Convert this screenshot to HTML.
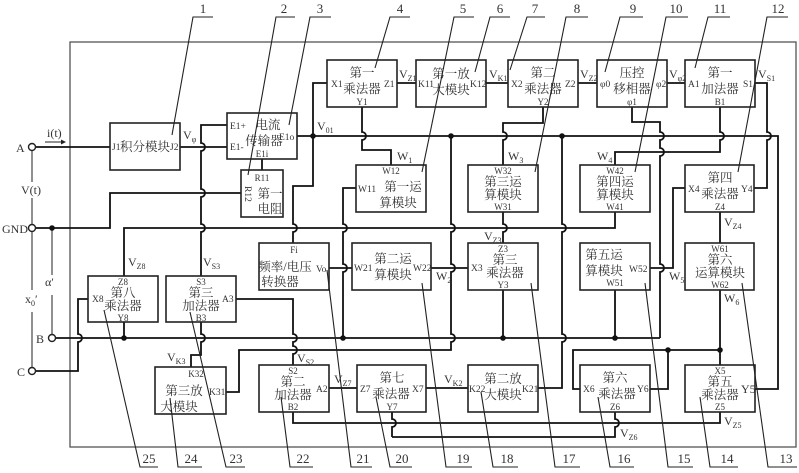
<!DOCTYPE html>
<html><head><meta charset="utf-8"><style>
html,body{margin:0;padding:0;background:#fff}
svg{display:block}
.w{fill:none;stroke:#111;stroke-width:1.8}
.g{fill:none;stroke:#555;stroke-width:1.3}
.b{fill:#fff;stroke:#222;stroke-width:1.6}
.l{fill:none;stroke:#222;stroke-width:1.1}
text{font-family:"Liberation Serif","Noto Serif CJK SC",serif;fill:#333}
.c{font-size:12.5px;text-anchor:middle}
.p{font-size:9.5px}
.pm{font-size:9px;text-anchor:middle}
.s{font-size:12px}
.n{font-size:13px;text-anchor:middle}
</style></head><body>
<svg width="799" height="473" viewBox="0 0 799 473" xmlns="http://www.w3.org/2000/svg">
<rect x="70" y="42" width="726" height="405" class="g"/>
<path class="g" d="M32,151V224M32,232V367M52,228V334"/>
<rect x="18" y="182" width="28" height="16" fill="#fff"/>
<rect x="40" y="275" width="20" height="20" fill="#fff"/>
<rect x="20" y="290" width="22" height="22" fill="#fff"/>
<path class="w" d="M35.5,147H110"/>
<path class="w" d="M35.5,228H110V193H241"/>
<path class="w" d="M180,147H227"/>
<path class="w" d="M227,125H201V143a4,4 0 0 1 0,8V189a4,4 0 0 1 0,8V224a4,4 0 0 1 0,8V276"/>
<path class="w" d="M262,159V170"/>
<path class="w" d="M297,136H778V389H755"/>
<path class="w" d="M313,136V83H327M313,136V186H293V224a4,4 0 0 1 0,8V243"/>
<path class="w" d="M362,107V132a4,4 0 0 1 0,8V150H391V165"/>
<path class="w" d="M356,188H343V224a4,4 0 0 1 0,8V264a4,4 0 0 1 0,8V338"/>
<path class="w" d="M329,268H352M431,268H468"/>
<path class="w" d="M451,136V224a4,4 0 0 1 0,8V264a4,4 0 0 1 0,8V334a4,4 0 0 1 0,8V350H239V392H226"/>
<path class="w" d="M562,136V224a4,4 0 0 1 0,8V334a4,4 0 0 1 0,8V388H538"/>
<path class="w" d="M55.5,338H660"/>
<path class="w" d="M632,107V122H660V132a4,4 0 0 1 0,8V148a4,4 0 0 1 0,8V264a4,4 0 0 1 0,8V338"/>
<path class="w" d="M88,299H78V334a4,4 0 0 1 0,8V371H35.5"/>
<path class="w" d="M124,322V338M124,276V228H615V212"/>
<path class="w" d="M236,299H293V334a4,4 0 0 1 0,8V346a4,4 0 0 1 0,8V365"/>
<path class="w" d="M201,322V334a4,4 0 0 1 0,8V355H191V367"/>
<path class="w" d="M503,290V338M615,290V338"/>
<path class="w" d="M543,107V123H503V132a4,4 0 0 1 0,8V165"/>
<path class="w" d="M503,212V224a4,4 0 0 1 0,8V243"/>
<path class="w" d="M720,107V132a4,4 0 0 1 0,8V152H615V165"/>
<path class="w" d="M755,83H767V132a4,4 0 0 1 0,8V188H754"/>
<path class="w" d="M685,188H673V268H650"/>
<path class="w" d="M720,212V243M720,290V365"/>
<path class="w" d="M580,389H573V350H720M650,389H668V350"/>
<path class="w" d="M720,412V423H293V412"/>
<path class="w" d="M392,412V419a4,4 0 0 1 0,8V437"/>
<path class="w" d="M615,412V419a4,4 0 0 1 0,8V437H392"/>
<path class="w" d="M329,388H357M426,388H468"/>
<path class="w" d="M397,83H416M486,83H508M578,83H597M667,83H685"/>
<g fill="#111">
<circle cx="52" cy="228" r="2.8"/><circle cx="313" cy="136" r="2.8"/><circle cx="451" cy="136" r="2.8"/><circle cx="562" cy="136" r="2.8"/>
<circle cx="124" cy="338" r="2.8"/><circle cx="343" cy="338" r="2.8"/><circle cx="503" cy="338" r="2.8"/><circle cx="615" cy="338" r="2.8"/>
<circle cx="668" cy="350" r="2.8"/><circle cx="720" cy="350" r="2.8"/>
</g>
<g fill="#fff" stroke="#222" stroke-width="1.4">
<circle cx="32" cy="147" r="3.5"/><circle cx="32" cy="228" r="3.5"/><circle cx="52" cy="338" r="3.5"/><circle cx="32" cy="371" r="3.5"/>
</g>
<text x="16" y="152" class="s">A</text>
<text x="2" y="233" class="s">GND</text>
<text x="36" y="343" class="s">B</text>
<text x="17" y="376" class="s">C</text>
<text x="21" y="194" class="s">V(t)</text>
<text x="45" y="286" class="s">α′</text>
<text x="25" y="303" class="s">x<tspan font-size="8" dy="3">0</tspan><tspan dy="-3">′</tspan></text>
<text x="47" y="137" class="s">i(t)</text>
<path d="M45,142H62" class="l"/><path d="M66,142l-5,-2.5v5z" fill="#222"/>

<rect x="110" y="123" width="70" height="47" class="b"/>
<text x="112" y="150" class="p" font-size="8">J1</text><text x="145" y="151" class="c" font-size="12">积分模块</text><text x="170" y="150" class="p" font-size="8">J2</text>

<rect x="227" y="113" width="70" height="46" class="b"/>
<text x="230" y="129" class="p">E1+</text><text x="230" y="150" class="p">E1-</text>
<text x="268" y="129" class="c">电流</text><text x="264" y="145" class="c">传输器</text>
<text x="262" y="157" class="pm">E1i</text><text x="279" y="140" class="p">E1o</text>

<rect x="241" y="170" width="42" height="47" class="b"/>
<text x="262" y="181" class="pm">R11</text>
<text transform="translate(245,186) rotate(90)" class="p">R12</text>
<text x="270" y="198" class="c">第一</text><text x="270" y="213" class="c">电阻</text>

<rect x="327" y="60" width="70" height="47" class="b"/>
<text x="362" y="77" class="c">第一</text><text x="362" y="93" class="c">乘法器</text>
<text x="331" y="87" class="p">X1</text><text x="384" y="87" class="p">Z1</text><text x="362" y="105" class="pm">Y1</text>

<rect x="416" y="60" width="70" height="47" class="b"/>
<text x="451" y="78" class="c">第一放</text><text x="451" y="94" class="c">大模块</text>
<text x="418" y="87" class="p">K11</text><text x="470" y="87" class="p">K12</text>

<rect x="508" y="60" width="70" height="47" class="b"/>
<text x="543" y="77" class="c">第二</text><text x="543" y="93" class="c">乘法器</text>
<text x="511" y="87" class="p">X2</text><text x="565" y="87" class="p">Z2</text><text x="543" y="105" class="pm">Y2</text>

<rect x="597" y="60" width="70" height="47" class="b"/>
<text x="632" y="77" class="c">压控</text><text x="632" y="93" class="c">移相器</text>
<text x="600" y="87" class="p">φ0</text><text x="656" y="87" class="p">φ2</text><text x="632" y="105" class="pm">φ1</text>

<rect x="685" y="60" width="70" height="47" class="b"/>
<text x="720" y="77" class="c">第一</text><text x="720" y="93" class="c">加法器</text>
<text x="688" y="87" class="p">A1</text><text x="743" y="87" class="p">S1</text><text x="720" y="105" class="pm">B1</text>

<rect x="356" y="165" width="70" height="47" class="b"/>
<text x="391" y="174" class="pm">W12</text>
<text x="358" y="192" class="p">W11</text><text x="403" y="191" class="c">第一运</text><text x="398" y="207" class="c">算模块</text>

<rect x="468" y="165" width="70" height="47" class="b"/>
<text x="503" y="174" class="pm">W32</text><text x="503" y="186" class="c">第三运</text><text x="503" y="199" class="c">算模块</text><text x="503" y="210" class="pm">W31</text>

<rect x="580" y="165" width="70" height="47" class="b"/>
<text x="615" y="174" class="pm">W42</text><text x="615" y="186" class="c">第四运</text><text x="615" y="199" class="c">算模块</text><text x="615" y="210" class="pm">W41</text>

<rect x="685" y="165" width="69" height="47" class="b"/>
<text x="720" y="182" class="c">第四</text><text x="720" y="198" class="c">乘法器</text>
<text x="688" y="192" class="p">X4</text><text x="741" y="192" class="p">Y4</text><text x="720" y="210" class="pm">Z4</text>

<rect x="259" y="243" width="70" height="47" class="b"/>
<text x="294" y="253" class="pm">Fi</text><text x="285" y="271" class="c">频率/电压</text><text x="280" y="286" class="c">转换器</text>
<text x="316" y="272" class="p">Vo</text>

<rect x="352" y="243" width="79" height="47" class="b"/>
<text x="354" y="271" class="p">W21</text><text x="393" y="263" class="c">第二运</text><text x="393" y="279" class="c">算模块</text><text x="413" y="271" class="p">W22</text>

<rect x="468" y="243" width="70" height="47" class="b"/>
<text x="503" y="252" class="pm">Z3</text><text x="505" y="264" class="c">第三</text><text x="505" y="277" class="c">乘法器</text>
<text x="471" y="271" class="p">X3</text><text x="503" y="288" class="pm">Y3</text>

<rect x="580" y="243" width="70" height="47" class="b"/>
<text x="604" y="259" class="c">第五运</text><text x="604" y="275" class="c">算模块</text>
<text x="629" y="272" class="p">W52</text><text x="615" y="286" class="pm">W51</text>

<rect x="685" y="243" width="69" height="47" class="b"/>
<text x="720" y="252" class="pm">W61</text><text x="720" y="264" class="c">第六</text><text x="720" y="277" class="c">运算模块</text><text x="720" y="288" class="pm">W62</text>

<rect x="88" y="276" width="70" height="46" class="b"/>
<text x="123" y="285" class="pm">Z8</text><text x="123" y="297" class="c">第八</text><text x="123" y="310" class="c">乘法器</text>
<text x="92" y="302" class="p">X8</text><text x="123" y="321" class="pm">Y8</text>

<rect x="166" y="276" width="70" height="46" class="b"/>
<text x="201" y="285" class="pm">S3</text><text x="201" y="297" class="c">第三</text><text x="201" y="310" class="c">加法器</text>
<text x="222" y="302" class="p">A3</text><text x="201" y="321" class="pm">B3</text>

<rect x="155" y="367" width="71" height="47" class="b"/>
<text x="196" y="377" class="pm">K32</text><text x="184" y="395" class="c">第三放</text><text x="179" y="411" class="c">大模块</text>
<text x="209" y="395" class="p">K31</text>

<rect x="259" y="365" width="70" height="47" class="b"/>
<text x="293" y="374" class="pm">S2</text><text x="293" y="386" class="c">第二</text><text x="293" y="399" class="c">加法器</text>
<text x="316" y="392" class="p">A2</text><text x="293" y="410" class="pm">B2</text>

<rect x="357" y="365" width="69" height="47" class="b"/>
<text x="392" y="382" class="c">第七</text><text x="391" y="398" class="c">乘法器</text>
<text x="360" y="392" class="p">Z7</text><text x="412" y="392" class="p">X7</text><text x="392" y="410" class="pm">Y7</text>

<rect x="468" y="365" width="70" height="47" class="b"/>
<text x="503" y="383" class="c">第二放</text><text x="503" y="399" class="c">大模块</text>
<text x="469" y="392" class="p">K22</text><text x="522" y="392" class="p">K21</text>

<rect x="580" y="365" width="70" height="47" class="b"/>
<text x="615" y="382" class="c">第六</text><text x="617" y="398" class="c">乘法器</text>
<text x="583" y="392" class="p">X6</text><text x="637" y="392" class="p">Y6</text><text x="615" y="410" class="pm">Z6</text>

<rect x="685" y="365" width="70" height="47" class="b"/>
<text x="720" y="374" class="pm">X5</text><text x="720" y="386" class="c">第五</text><text x="720" y="399" class="c">乘法器</text>
<text x="741" y="393" class="s">Y5</text><text x="720" y="410" class="pm">Z5</text>

<g class="s">
<text x="183" y="139">V<tspan font-size="8" dy="3">φ</tspan></text>
<text x="317" y="130">V<tspan font-size="8" dy="3">01</tspan></text>
<text x="399" y="78">V<tspan font-size="8" dy="3">Z1</tspan></text>
<text x="489" y="78">V<tspan font-size="8" dy="3">K1</tspan></text>
<text x="580" y="78">V<tspan font-size="8" dy="3">Z2</tspan></text>
<text x="669" y="78">V<tspan font-size="8" dy="3">φ2</tspan></text>
<text x="758" y="78">V<tspan font-size="8" dy="3">S1</tspan></text>
<text x="397" y="160">W<tspan font-size="8" dy="3">1</tspan></text>
<text x="508" y="160">W<tspan font-size="8" dy="3">3</tspan></text>
<text x="597" y="160">W<tspan font-size="8" dy="3">4</tspan></text>
<text x="484" y="240">V<tspan font-size="8" dy="3">Z3</tspan></text>
<text x="436" y="280">W<tspan font-size="8" dy="3">2</tspan></text>
<text x="669" y="280">W<tspan font-size="8" dy="3">5</tspan></text>
<text x="724" y="226">V<tspan font-size="8" dy="3">Z4</tspan></text>
<text x="724" y="302">W<tspan font-size="8" dy="3">6</tspan></text>
<text x="128" y="266">V<tspan font-size="8" dy="3">Z8</tspan></text>
<text x="203" y="266">V<tspan font-size="8" dy="3">S3</tspan></text>
<text x="167" y="361">V<tspan font-size="8" dy="3">K3</tspan></text>
<text x="297" y="362">V<tspan font-size="8" dy="3">S2</tspan></text>
<text x="334" y="383">V<tspan font-size="8" dy="3">Z7</tspan></text>
<text x="444" y="383">V<tspan font-size="8" dy="3">K2</tspan></text>
<text x="620" y="437">V<tspan font-size="8" dy="3">Z6</tspan></text>
<text x="724" y="425">V<tspan font-size="8" dy="3">Z5</tspan></text>
</g>
<g class="l">
<path d="M213,17H193L172,135"/><path d="M295,17H276L248,175"/><path d="M331,17H310L289,125"/>
<path d="M410,17H390L375,68"/><path d="M474,17H454L422,172"/><path d="M510,17H490L475,72"/>
<path d="M545,17H527L510,70"/><path d="M588,17H566L535,172"/><path d="M643,17H620L605,72"/>
<path d="M688,17H666L635,172"/><path d="M730,17H708L695,68"/><path d="M788,17H767L738,172"/>
<path d="M158,467H140L104,310"/><path d="M202,467H178L170,398"/><path d="M245,467H226L190,312"/>
<path d="M313,467H290L281,397"/><path d="M372,467H351L327,270"/><path d="M412,467H390L376,397"/>
<path d="M472,467H446L422,283"/><path d="M518,467H493L481,392"/><path d="M580,467H555L531,283"/>
<path d="M634,467H610L598,397"/><path d="M693,467H668L645,283"/><path d="M738,467H710L700,397"/>
<path d="M797,467H768L742,283"/>
</g>
<g class="n">
<text x="203" y="13">1</text><text x="284" y="13">2</text><text x="320" y="13">3</text><text x="400" y="13">4</text>
<text x="463" y="13">5</text><text x="500" y="13">6</text><text x="535" y="13">7</text><text x="577" y="13">8</text>
<text x="633" y="13">9</text><text x="676" y="13">10</text><text x="720" y="13">11</text><text x="778" y="13">12</text>
<text x="149" y="463">25</text><text x="191" y="463">24</text><text x="236" y="463">23</text><text x="303" y="463">22</text>
<text x="363" y="463">21</text><text x="402" y="463">20</text><text x="463" y="463">19</text><text x="507" y="463">18</text>
<text x="569" y="463">17</text><text x="624" y="463">16</text><text x="684" y="463">15</text><text x="727" y="463">14</text>
<text x="786" y="463">13</text>
</g>
</svg>
</body></html>
